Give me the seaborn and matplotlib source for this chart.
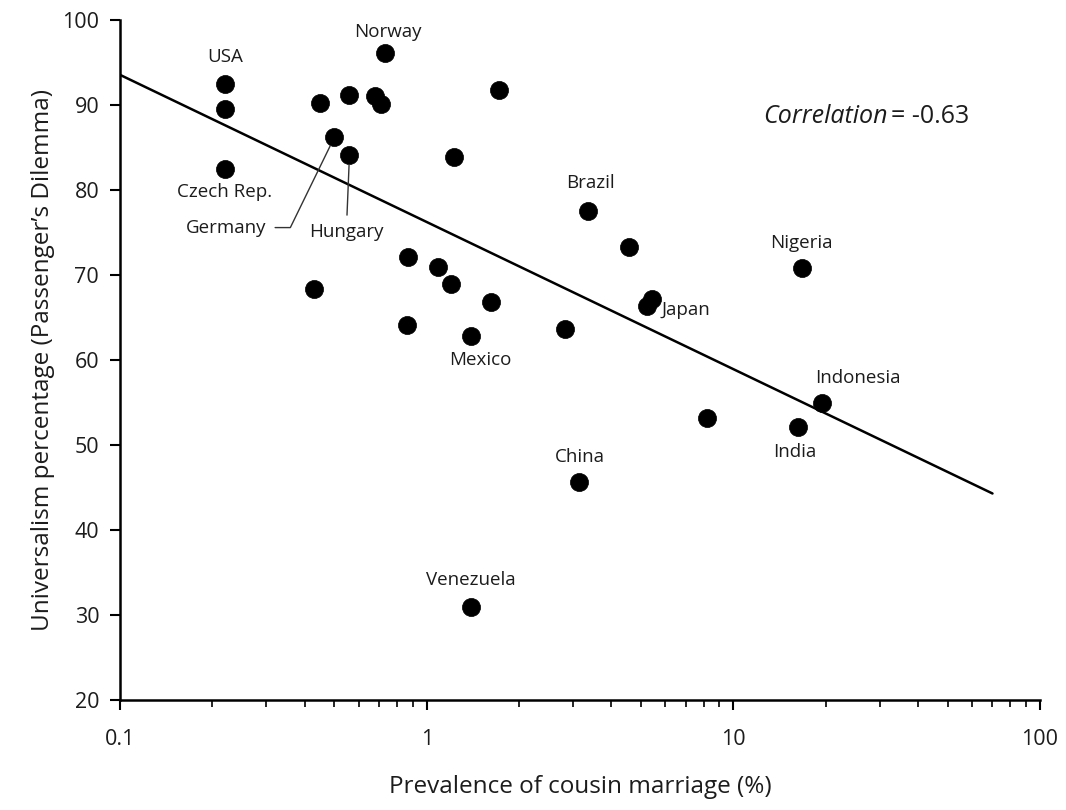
import numpy as np
import pandas as pd
import matplotlib
matplotlib.use("Agg")
import matplotlib.pyplot as plt
import seaborn as sns

# Prevalence of cousin marriage (%) and universalism percentage per country
cousin_marriage = [0.22, 0.22, 0.22, 0.45, 0.56, 0.50, 0.56, 0.68, 0.71, 0.73,
                   1.72, 1.23, 3.35, 4.58, 16.7, 5.44, 5.24, 0.43, 0.87, 1.09,
                   1.20, 1.62, 0.86, 1.40, 2.82, 8.2, 19.4, 16.2, 3.15, 1.39]
universalism = [92.5, 89.5, 82.5, 90.2, 91.2, 86.2, 84.1, 91.1, 90.1, 96.1,
                91.8, 83.9, 77.5, 73.3, 70.8, 67.2, 66.4, 68.3, 72.1, 70.9,
                69.0, 66.8, 64.1, 62.8, 63.7, 53.2, 54.9, 52.1, 45.7, 30.9]
country = ["USA", "", "Czech Rep.", "", "", "Germany", "Hungary", "", "", "Norway",
           "", "", "Brazil", "", "Nigeria", "Japan", "", "", "", "",
           "", "", "", "Mexico", "", "", "Indonesia", "India", "China", "Venezuela"]
correlation_text = "-0.63"

df = pd.DataFrame({"x": cousin_marriage, "y": universalism, "country": country})

sns.set_theme(style="white")
plt.rcParams["font.family"] = ["Open Sans", "DejaVu Sans"]
TEXT = "#1c1c1c"

fig = plt.figure(figsize=(10.66, 8.10), dpi=100)
ax = fig.add_axes([0.1126, 0.1358, 0.863, 0.8395])

sns.scatterplot(data=df, x="x", y="y", color="black", s=170, edgecolor="black",
                linewidth=0.5, ax=ax, zorder=3, legend=False)

# least-squares trend line on the log scale
slope, intercept = np.polyfit(np.log10(df["x"]), df["y"], 1)
xs = np.logspace(-1, np.log10(70), 100)
ax.plot(xs, intercept + slope * np.log10(xs), color="black", lw=1.8, zorder=2)

ax.set_xscale("log")
ax.set_xlim(0.1, 100)
ax.set_ylim(20, 100)
ax.set_yticks(range(20, 101, 10))
ax.set_xticks([0.1, 1, 10, 100])
ax.set_xticklabels(["0.1", "1", "10", "100"])

for side in ["top", "right"]:
    ax.spines[side].set_visible(False)
for side in ["left", "bottom"]:
    ax.spines[side].set_color("black")
    ax.spines[side].set_linewidth(1.8)

ax.tick_params(axis="both", which="major", direction="out", length=7, width=1.5,
               color="black", labelsize=15.5, labelcolor=TEXT, left=True, bottom=True)
ax.tick_params(axis="x", which="minor", direction="out", length=5, width=1.2,
               color="black", bottom=True)
ax.tick_params(axis="x", which="major", pad=14)
ax.tick_params(axis="y", which="major", pad=8)

ax.set_xlabel("Prevalence of cousin marriage (%)", fontsize=17.5, color=TEXT, labelpad=18)
ax.set_ylabel("Universalism percentage (Passenger\u2019s Dilemma)", fontsize=17.5,
              color=TEXT, labelpad=5)

# country labels
LABEL_SIZE = 13.5
offsets = {
    "USA": (0, 19, "center"),
    "Norway": (2, 15, "center"),
    "Czech Rep.": (0, -16.5, "center"),
    "Brazil": (2, 20, "center"),
    "Nigeria": (0, 18, "center"),
    "Japan": (7, -8, "left"),
    "Indonesia": (26, 18, "center"),
    "India": (-2, -18, "center"),
    "China": (0, 18, "center"),
    "Mexico": (6, -17, "center"),
    "Venezuela": (0, 19.5, "center"),
}
for _, row in df.iterrows():
    name = row["country"]
    if name in offsets:
        dx, dy, ha = offsets[name]
        ax.annotate(name, (row["x"], row["y"]), xytext=(dx, dy), textcoords="offset points",
                    ha=ha, va="center", fontsize=LABEL_SIZE, color=TEXT)

# leader lines for Germany and Hungary
germany = df[df["country"] == "Germany"].iloc[0]
ax.annotate("Germany", (germany["x"], germany["y"]), xytext=(-78, -65),
            textcoords="offset points", ha="center", va="center", fontsize=LABEL_SIZE,
            color=TEXT,
            arrowprops=dict(arrowstyle="-", color="#333333", lw=1.0, relpos=(1, 0.5),
                            connectionstyle="angle,angleA=0,angleB=64,rad=0",
                            shrinkA=4, shrinkB=7))
hungary = df[df["country"] == "Hungary"].iloc[0]
ax.annotate("Hungary", (hungary["x"], hungary["y"]), xytext=(-2, -55),
            textcoords="offset points", ha="center", va="center", fontsize=LABEL_SIZE,
            color=TEXT,
            arrowprops=dict(arrowstyle="-", color="#333333", lw=1.0, relpos=(0.5, 1),
                            shrinkA=3, shrinkB=7))

# correlation note
ax.text(0.834, 0.858, "Correlation", transform=ax.transAxes, ha="right", va="center",
        fontsize=18, style="italic", color=TEXT)
ax.text(0.838, 0.858, "= " + correlation_text, transform=ax.transAxes, ha="left",
        va="center", fontsize=18, color=TEXT)

fig.savefig("out.png", dpi=100, facecolor="white")
